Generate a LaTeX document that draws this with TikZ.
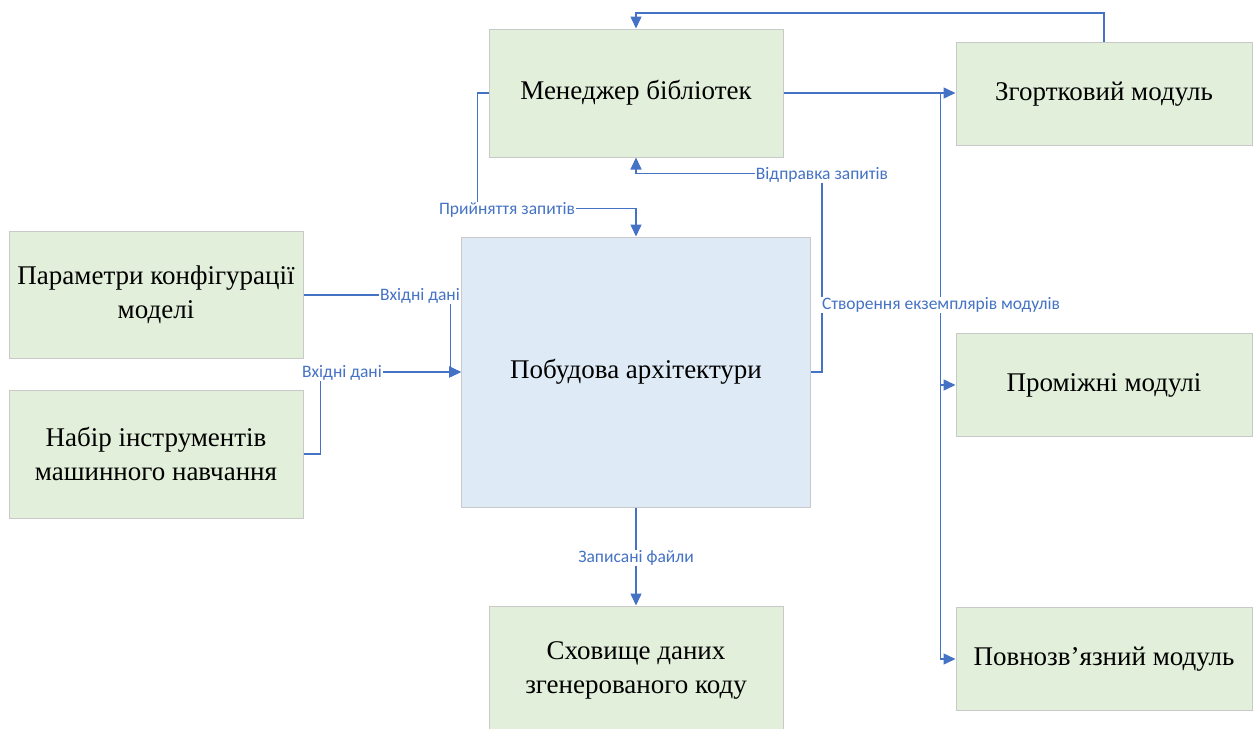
\documentclass[tikz,border=0pt]{standalone}
\usepackage{fontspec}
\setmainfont{Liberation Serif}
\newfontfamily\lblfont{Carlito}
\usetikzlibrary{arrows.meta, positioning}
\definecolor{boxgreen}{HTML}{E2EFDA}
\definecolor{boxblue}{HTML}{DEEBF7}
\definecolor{boxline}{HTML}{C9C9C9}
\definecolor{linkblue}{HTML}{4472C4}

\begin{document}
\begin{tikzpicture}[
    x=1pt, y=-1pt,
    every node/.style={font=\fontsize{27}{34}\selectfont},
    box/.style={draw=boxline, line width=1pt, fill=boxgreen, align=center,
                inner sep=0pt, minimum width=294pt, minimum height=128pt},
    modbox/.style={box, minimum width=296pt, minimum height=103pt},
    core/.style={box, fill=boxblue, minimum width=349pt, minimum height=270pt},
    lbl/.style={font=\lblfont\fontsize{17.5}{19}\selectfont, text=linkblue,
                fill=white, inner sep=1pt},
    arrow/.style={-{Triangle[length=12pt, width=11pt]}, draw=linkblue,
                  line width=1.5pt}
]
    \useasboundingbox (0,0) rectangle (1257,728);

    \node[box] (lib) at (636,93) {Менеджер бібліотек};
    \node[modbox] (conv) at (1104,94) {Згортковий модуль};
    \node[box, minimum height=127pt] (params) at (156,295)
        {Параметри конфігурації\\моделі};
    \node[box] (toolkit) at (156,454)
        {Набір інструментів\\машинного навчання};
    \node[core] (arch) at (636,372) {Побудова архітектури};
    \node[modbox] (inter) at (1104,385) {Проміжні модулі};
    \node[modbox] (fc) at (1104,659) {Повнозв’язний модуль};
    \node[box] (store) at (636,670) {Сховище даних\\згенерованого коду};

    \coordinate (bus) at ([xshift=-15pt]conv.west |- lib.east);

    \draw[arrow] (conv.north) -- ++(0,-29) -| (lib.north);
    \draw[arrow] (lib.west) -- ++(-11,0) |- ([yshift=28pt]arch.north)
        -- (arch.north);
    \draw[arrow] (arch.east) -- ++(11,0) |- ([yshift=-16pt]lib.south)
        -- (lib.south);
    \draw[arrow] (lib.east) -- (lib.east -| conv.west);
    \draw[arrow] (bus) |- (inter.west);
    \draw[arrow] (bus) |- (fc.west);
    \draw[arrow] (params.east) -- ++(147,0) |- (arch.west);
    \draw[arrow] (toolkit.east) -- ++(17,0) |- (arch.west);
    \draw[arrow] (arch.south) -- (store.north);

    \node[lbl] (accept) at (507,210) {Прийняття запитів};
    \node[lbl] (send) at (822,175) {Відправка запитів};
    \node[lbl] (inA) at (420,296) {Вхідні дані};
    \node[lbl] (inB) at (342,373) {Вхідні дані};
    \node[lbl] (write) at (636,558) {Записані файли};
    \node[lbl] (create) at (941,305) {Створення екземплярів модулів};
\end{tikzpicture}
\end{document}
